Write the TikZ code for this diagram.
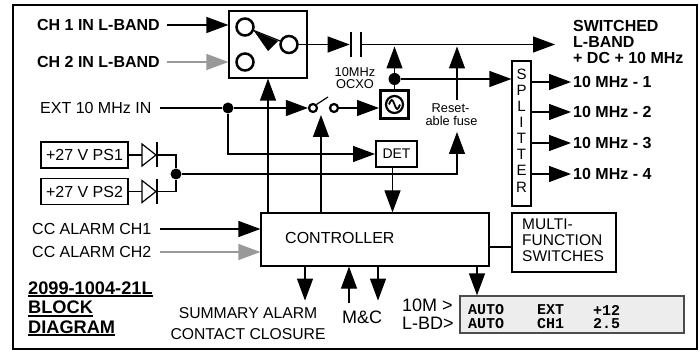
\documentclass[tikz,border=0pt]{standalone}
\usepackage{fontspec}
\setmainfont{Liberation Sans}
\setmonofont{Liberation Mono}
\usetikzlibrary{arrows.meta}
\newcommand\ulbar[1]{\setbox0\hbox{#1}\rlap{\vrule width\wd0 height -0.8pt depth 3pt}\box0}
\begin{document}
\begin{tikzpicture}[x=1pt,y=-1pt,
 wire/.style={line width=1.2pt},
 arr/.style={line width=1.2pt,-{Triangle[length=22pt,width=16pt]}},
 garr/.style={arr,draw=black!40},
 box/.style={draw,line width=1.2pt,inner sep=0pt},
 ring/.style={circle,draw,line width=2.5pt,minimum size=17pt,inner sep=0pt,fill=white},
 sring/.style={circle,draw,line width=2.2pt,minimum size=8pt,inner sep=0pt,fill=white},
 dot/.style={circle,fill,inner sep=0pt,minimum size=11pt},
 lbl/.style={inner sep=0pt,font=\fontsize{16}{18}\selectfont},
 biglbl/.style={inner sep=0pt,font=\fontsize{18}{20}\selectfont},
 boldlbl/.style={inner sep=0pt,font=\fontsize{16}{18}\selectfont\bfseries},
 smalllbl/.style={inner sep=0pt,font=\fontsize{12.8}{14}\selectfont},
 monolbl/.style={inner sep=0pt,anchor=west,font=\fontsize{15}{16}\selectfont\ttfamily\bfseries},
 diode/.pic={
   \draw[wire,fill=white] (0,-11) -- (14,0) -- (0,11) -- cycle;
   \draw[wire] (15,-12.5) -- (15,12.5);
   \coordinate (-in) at (0,0);
   \coordinate (-out) at (15,0);
 }
]
\useasboundingbox (0,0) rectangle (700,352);
\draw[line width=2.5pt] (13,5) rectangle (697,349);

% ---- input switch
\node[box,minimum width=78pt,minimum height=67pt] (sw) at (268,44.5) {};
\node[ring] (c1) at (245,27) {};
\node[ring] (c2) at (245,62) {};
\node[ring] (c3) at (289,44.5) {};
\draw[wire] (c1) -- (c3);
\fill (254,31) -- (278,41) -- (268,51) -- cycle;

\node[boldlbl,anchor=east] (ch1) at (160,25) {CH 1 IN L-BAND};
\node[boldlbl,anchor=east] (ch2) at (160,62) {CH 2 IN L-BAND};
\draw[arr,shorten <=7pt] (ch1.east) -- (ch1.east -| sw.west);
\draw[garr,shorten <=7pt] (ch2.east) -- (ch2.east -| sw.west);

% ---- capacitor and main output
\coordinate (capL) at (351,44.5);
\coordinate (capR) at (361,44.5);
\draw[line width=2.5pt] ([yshift=12.5pt]capL) -- ([yshift=-12.5pt]capL);
\draw[line width=2.5pt] ([yshift=12.5pt]capR) -- ([yshift=-12.5pt]capR);
\draw[arr,shorten >=1.3pt] (c3) -- (capL);
\coordinate (outtip) at (555,44.5);
\draw[arr] (capR) -- (outtip);
\node[boldlbl,anchor=west] (out1) at (573,26) {SWITCHED};
\node[boldlbl,anchor=west] (out2) at (573,42) {L-BAND};
\node[boldlbl,anchor=west] (out3) at (573,58) {+ DC + 10 MHz};

% ---- OCXO
\node[smalllbl] (ocxo1) at (355,72) {10MHz};
\node[smalllbl] (ocxo2) at (355,84) {OCXO};
\node[draw,line width=3pt,minimum size=28pt,inner sep=0pt] (ocxo) at (394.5,104.5) {};
\node[circle,draw,line width=2.2pt,minimum size=17pt,inner sep=0pt] (osc) at (ocxo) {};
\draw[line width=1.8pt] ([xshift=-5.5pt]osc.center) sin ([xshift=-2.75pt,yshift=4.5pt]osc.center)
   cos (osc.center) sin ([xshift=2.75pt,yshift=-4.5pt]osc.center) cos ([xshift=5.5pt]osc.center);
\node[dot,minimum size=12pt] (odot) at (394.5,79) {};
\draw[wire] (odot) -- (ocxo.north);
\draw[arr,shorten >=2pt] (odot) -- (odot |- outtip);

% ---- splitter
\node[box,minimum width=19pt,minimum height=145pt] (split) at (521.5,133.5) {};
\node[inner sep=0pt,align=center,font=\fontsize{15}{16.1}\selectfont] (splitlbl) at (521.5,130.5) {S\\P\\L\\I\\T\\T\\E\\R};
\draw[arr] (odot) -- (odot -| split.west);
\node[boldlbl,anchor=west] (t1) at (573,82) {10 MHz - 1};
\node[boldlbl,anchor=west] (t2) at (573,112) {10 MHz - 2};
\node[boldlbl,anchor=west] (t3) at (573,143) {10 MHz - 3};
\node[boldlbl,anchor=west] (t4) at (573,174) {10 MHz - 4};
\foreach \t in {t1,t2,t3,t4}{
  \draw[arr,shorten >=2pt] (\t.west -| split.east) -- (\t.west);
}

% ---- EXT 10 MHz and reference switch
\node[lbl,anchor=west] (ext) at (40,108) {EXT 10 MHz IN};
\node[dot] (edot) at (228,108) {};
\node[sring] (s1) at (313,108) {};
\node[sring] (s2) at (334,108) {};
\coordinate (armend) at (328,97);
\draw[wire,shorten <=8pt] (ext.east) -- (edot);
\draw[arr] (edot) -- (s1);
\draw[wire] (s1.north east) -- (armend);
\draw[arr] (s2) -- (s2 -| ocxo.west);

% ---- DET
\node[draw,line width=2pt,minimum width=41pt,minimum height=26pt,inner sep=0pt,
      font=\fontsize{14}{16}\selectfont] (det) at (396.5,154) {DET};
\draw[arr] (edot) |- (det.west);

% ---- power supplies
\node[box,lbl,minimum width=87pt,minimum height=26pt] (ps1) at (84.5,155) {+27 V PS1};
\node[box,lbl,minimum width=87pt,minimum height=26pt] (ps2) at (84.5,191.5) {+27 V PS2};
\pic (dA) at (142,155) {diode};
\pic (dB) at (142,191.5) {diode};
\draw[wire] (ps1.east) -- (dA-in);
\draw[wire] (ps2.east) -- (dB-in);
\node[dot] (pdot) at (176,174) {};
\draw[wire] (dA-out) -| (pdot);
\draw[wire] (dB-out) -| (pdot);
\coordinate (fusebot) at (457,132);
\coordinate (fusetop) at (457,100);
\draw[arr] (pdot) -| (fusebot);
\draw[arr,shorten >=2pt] (fusetop) -- (fusetop |- outtip);
\node[smalllbl] (fuse1) at (450.5,108) {Reset-};
\node[smalllbl] (fuse2) at (451.5,121) {able fuse};

% ---- controller
\node[box,minimum width=228pt,minimum height=53pt] (ctrl) at (375,239.5) {};
\node[lbl,anchor=west] (ctrllbl) at (285,238) {CONTROLLER};
\coordinate (armmid) at (321,115);
\draw[arr] (ctrl.north -| armmid) -- (armmid);
\draw[arr] (ctrl.north -| sw.south) -- (sw.south);
\draw[arr] ([xshift=-4pt]det.south) -- ([xshift=-4pt]det.south |- ctrl.north);

\node[lbl,anchor=west] (cc1) at (32,229) {CC ALARM CH1};
\node[lbl,anchor=west] (cc2) at (32,252) {CC ALARM CH2};
\draw[arr,shorten <=8pt] (cc1.east) -- (cc1.east -| ctrl.west);
\draw[garr,shorten <=8pt] (cc2.east) -- (cc2.east -| ctrl.west);

% ---- multi-function switches
\node[box,minimum width=104pt,minimum height=59pt] (mfs) at (564,242.5) {};
\node[inner sep=0pt,anchor=north west,align=left,font=\fontsize{15.5}{16}\selectfont] (mfslbl) at (522,218.5) {MULTI-\\FUNCTION\\SWITCHES};
\draw[wire] (ctrl.east |- 0,247) -- (mfs.west |- 0,247);

% ---- bottom outputs
\draw[arr] (ctrl.south -| 305,0) -- ++(0,34);
\node[inner sep=0pt,align=center,font=\fontsize{15.7}{21}\selectfont] (sum) at (248,323.5) {SUMMARY ALARM\\CONTACT CLOSURE};
\coordinate (mcin) at (349,303);
\draw[arr] (mcin) -- (mcin |- ctrl.south);
\draw[arr] (ctrl.south -| 378,0) -- ++(0,34);
\node[biglbl] (mc) at (362,317) {M\&C};

% ---- display
\node[draw=black!70,fill=black!7,line width=1.2pt,minimum width=224pt,minimum height=37pt,inner sep=0pt] (disp) at (572,314.5) {};
\draw[arr] (ctrl.south -| 477,0) -- (disp.north -| 477,0);
\node[biglbl,anchor=west] (l10m) at (402,305) {10M >};
\node[biglbl,anchor=west] (llbd) at (402,323) {L-BD>};
\node[monolbl] (d11) at (468,310) {AUTO};
\node[monolbl] (d12) at (537,310) {EXT};
\node[monolbl] (d13) at (593,310) {+12};
\node[monolbl] (d21) at (468,324) {AUTO};
\node[monolbl] (d22) at (537,324) {CH1};
\node[monolbl] (d23) at (593,324) {2.5};

% ---- title
\node[inner sep=0pt,anchor=north west,align=left,font=\fontsize{18.2}{19.5}\selectfont\bfseries] (title) at (28,281.5)
  {\ulbar{2099-1004-21L}\\\ulbar{BLOCK}\\\ulbar{DIAGRAM}};
\end{tikzpicture}
\end{document}
